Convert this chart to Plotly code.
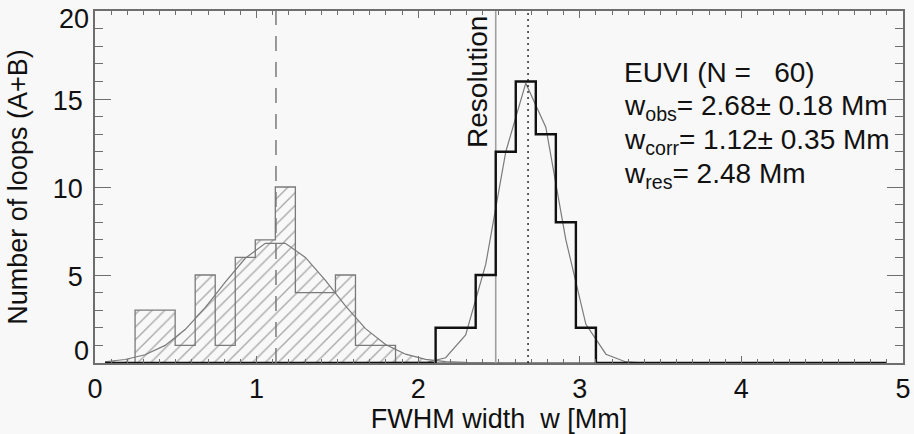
import numpy as np
import plotly.graph_objects as go

# ---- data ----
bin_width = 0.124
bin_centers = [round(0.062 + bin_width * k, 3) for k in range(40)]

# corrected widths histogram (hatched)
corr_counts = [0, 0, 3, 3, 1, 5, 1, 6, 7, 10, 4, 4, 5, 1, 1] + [0] * 25
# Gaussian-fit curve to corrected widths, read at bin centres
corr_curve = [0.07, 0.2, 0.47, 1.0, 1.9, 3.15, 4.6, 5.95, 6.8, 6.8, 6.0, 4.7,
              3.25, 1.95, 1.05, 0.5, 0.21, 0.08, 0.03] + [0.0] * 21
# observed widths histogram (black)
obs_counts = [0] * 17 + [2, 2, 5, 12, 16, 13, 8, 2] + [0] * 15
# Gaussian-fit curve to observed widths, read at bin centres
obs_curve = [0.0] * 16 + [0.03, 0.3, 1.6, 5.6, 12.0, 15.9, 13.4, 7.0, 2.2, 0.5, 0.06] + [0.0] * 13

n_loops = 60
w_obs, s_obs = 2.68, 0.18
w_corr, s_corr = 1.12, 0.35
w_res = 2.48

x_ticks = [0, 1, 2, 3, 4, 5]
y_ticks = [0, 5, 10, 15, 20]
y_range = [0, 20.002]

FONT = "Liberation Sans, Arial, Helvetica, sans-serif"
FS = 27
FS_ANN = 28
BG = "#f8f8f8"
AX = "#6e6e6e"
TXT = "#111111"
HATCH = dict(shape="/", size=9, solidity=0.15, fgcolor="#555555", bgcolor="rgba(0,0,0,0)")

# hatched region = union of the histogram steps and the area under the fit curve
cen = np.array(bin_centers)
xs = np.linspace(cen[0], cen[-1], 4001)
idx = np.clip(np.round((xs - cen[0]) / bin_width).astype(int), 0, len(cen) - 1)
step_vals = np.array(corr_counts, dtype=float)[idx]
curve_vals = np.interp(xs, cen, np.array(corr_curve))
hatch_top = np.maximum(step_vals, curve_vals)

fig = go.Figure()

fig.add_trace(go.Scatter(
    x=xs, y=hatch_top, mode="lines", fill="tozeroy",
    fillcolor="rgba(0,0,0,0)", fillpattern=HATCH,
    line=dict(width=0, color="rgba(0,0,0,0)"), hoverinfo="skip", showlegend=False))

# hatched histogram outline
fig.add_trace(go.Scatter(
    x=bin_centers, y=corr_counts, mode="lines", line_shape="hvh",
    line=dict(color="#7a7a7a", width=1.3), hoverinfo="skip", showlegend=False))

# fit curves
fig.add_trace(go.Scatter(
    x=bin_centers, y=corr_curve, mode="lines",
    line=dict(color="#7a7a7a", width=1.2), hoverinfo="skip", showlegend=False))
fig.add_trace(go.Scatter(
    x=bin_centers, y=obs_curve, mode="lines",
    line=dict(color="#7a7a7a", width=1.2), hoverinfo="skip", showlegend=False))

# vertical reference lines (drawn on overlaid axes with identical ranges)
fig.add_trace(go.Scatter(
    x=[w_corr, w_corr], y=[0, 20], mode="lines", yaxis="y2",
    line=dict(color="#7a7a7a", width=1.5, dash="15px,11px"),
    hoverinfo="skip", showlegend=False))
fig.add_trace(go.Scatter(
    x=[w_res, w_res], y=[0, 20], mode="lines",
    line=dict(color="#a0a0a0", width=1.6), hoverinfo="skip", showlegend=False))
fig.add_trace(go.Scatter(
    x=[w_obs, w_obs], y=[0, 20], mode="lines", yaxis="y3",
    line=dict(color=TXT, width=1.3, dash="2px,4px"),
    hoverinfo="skip", showlegend=False))

# observed histogram (black step)
fig.add_trace(go.Scatter(
    x=bin_centers, y=obs_counts, mode="lines", line_shape="hvh",
    line=dict(color=TXT, width=2.4), hoverinfo="skip", showlegend=False))

tick_font = dict(family=FONT, size=FS, color=TXT)
axis_common = dict(
    showline=True, linecolor=AX, linewidth=1.5, mirror="ticks", automargin=False,
    ticks="inside", tickcolor=AX, tickwidth=1.2, showgrid=False, zeroline=False,
    ticklabeloverflow="allow", tickfont=tick_font,
)

fig.update_xaxes(
    range=[0, 5.0005], tickvals=x_ticks, ticktext=[str(v) for v in x_ticks],
    ticklen=7, ticklabelstandoff=1,
    minor=dict(dtick=0.1, ticklen=4, ticks="inside", tickcolor=AX, tickwidth=1),
    title=dict(text="FWHM width\u00a0\u00a0w [Mm]", font=dict(family=FONT, size=FS, color=TXT), standoff=1),
    **axis_common)

# inner labels on the main axis; end labels (0 and 20) pulled inward as in the original
inner = y_ticks[1:-1]
fig.update_layout(
    yaxis=dict(
        range=y_range, tickvals=y_ticks,
        ticktext=[str(v) if v in inner else "" for v in y_ticks],
        ticklen=16, ticklabelstandoff=5, ticklabelshift=2,
        minor=dict(dtick=1, ticklen=8, ticks="inside", tickcolor=AX, tickwidth=1),
        title=dict(text="Number of loops (A+B)", font=dict(family=FONT, size=FS, color=TXT), standoff=17),
        **axis_common),
    yaxis2=dict(
        overlaying="y", side="left", range=y_range, automargin=False,
        tickvals=[y_ticks[-1]], ticktext=[str(y_ticks[-1])],
        ticks="", showline=False, showgrid=False, zeroline=False,
        ticklabelstandoff=5, ticklabelshift=8, ticklabeloverflow="allow",
        tickfont=tick_font),
    yaxis3=dict(
        overlaying="y", side="left", range=y_range, automargin=False,
        tickvals=[y_ticks[0]], ticktext=[str(y_ticks[0])],
        ticks="", showline=False, showgrid=False, zeroline=False,
        ticklabelstandoff=5, ticklabelshift=-12, ticklabeloverflow="allow",
        tickfont=tick_font),
)

ann_font = dict(family=FONT, size=FS_ANN, color=TXT)
lines = [
    (f"EUVI (N =\u00a0\u00a0\u00a0{n_loops})", 0.8267),
    (f"w<sub>obs</sub>= {w_obs:.2f}± {s_obs:.2f} Mm", 0.727),
    (f"w<sub>corr</sub>= {w_corr:.2f}± {s_corr:.2f} Mm", 0.630),
    (f"w<sub>res</sub>= {w_res:.2f} Mm", 0.532),
]
for txt, yy in lines:
    fig.add_annotation(text=txt, xref="paper", yref="paper", x=0.652, y=yy,
                       xanchor="left", yanchor="middle", showarrow=False, font=ann_font)

fig.add_annotation(text="Resolution", xref="paper", yref="paper", x=0.4734, y=0.797,
                   textangle=-90, xanchor="center", yanchor="middle",
                   showarrow=False, font=ann_font)

fig.update_layout(
    width=914, height=434,
    margin=dict(l=95, r=11, t=11, b=71),
    paper_bgcolor=BG, plot_bgcolor=BG,
    showlegend=False,
    font=dict(family=FONT, size=FS, color=TXT),
)

fig.write_html("out.html")
